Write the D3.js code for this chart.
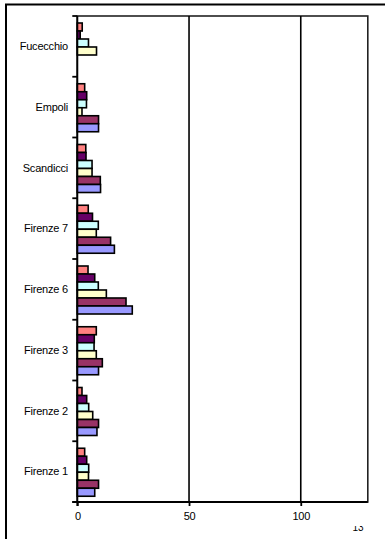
<!DOCTYPE html>
<html>
<head>
<meta charset="utf-8">
<script src="https://cdn.jsdelivr.net/npm/d3@7"></script>
<style>
  html, body { margin: 0; padding: 0; background: #fff; }
  svg { display: block; font-family: "Liberation Sans", Arial, sans-serif; }
</style>
</head>
<body>
<svg id="chart" width="385" height="539"></svg>
<script>
// Zone names, listed from top to bottom of the chart
const categories = ["Fucecchio", "Empoli", "Scandicci", "Firenze 7", "Firenze 6", "Firenze 3", "Firenze 2", "Firenze 1"];

// One array per series, in the same order as the categories
const serie1 = [2.2, 3.3, 3.8, 4.9, 4.8, 8.5, 2.1, 3.3];
const serie2 = [1.3, 4.2, 3.9, 6.8, 7.8, 7.6, 4.2, 4.2];
const serie3 = [5.0, 4.1, 6.6, 9.4, 9.4, 7.5, 5.1, 5.1];
const serie4 = [8.6, 2.1, 6.6, 8.5, 13.0, 8.5, 6.9, 5.0];
const serie5 = [null, 9.5, 10.3, 14.9, 21.8, 11.2, 9.5, 9.5];
const serie6 = [null, 9.5, 10.4, 16.6, 24.6, 9.5, 8.8, 7.8];

const seriesNames = ["Serie 1", "Serie 2", "Serie 3", "Serie 4", "Serie 5", "Serie 6"];
const seriesValues = [serie1, serie2, serie3, serie4, serie5, serie6];
const seriesColors = ["#FF8080", "#660066", "#CCFFFF", "#FFFFCC", "#993366", "#9999FF"];

const xTicks = [0, 50, 100];
const xMax = 130;

const svg = d3.select("#chart");

const plot = { left: 77.3, right: 367.8, top: 16, bottom: 502 };

const x = d3.scaleLinear().domain([0, xMax]).range([plot.left, plot.right]);
const y = d3.scaleBand().domain(categories).range([plot.top, plot.bottom]).padding(0);
const ySub = d3.scaleBand().domain(seriesNames).range([7, 55]).padding(0);

// Outer chart frame (runs past the right and bottom edges)
svg.append("rect")
  .attr("x", 6).attr("y", 4.5)
  .attr("width", 420).attr("height", 560)
  .attr("fill", "#fff").attr("stroke", "#000").attr("stroke-width", 2);

// Plot area
svg.append("rect")
  .attr("x", plot.left).attr("y", plot.top)
  .attr("width", plot.right - plot.left).attr("height", plot.bottom - plot.top)
  .attr("fill", "#fff").attr("stroke", "#222").attr("stroke-width", 1.6);

// Vertical gridlines
svg.append("g").selectAll("line")
  .data(xTicks.filter(d => d > 0))
  .join("line")
  .attr("x1", d => x(d)).attr("x2", d => x(d))
  .attr("y1", plot.top).attr("y2", plot.bottom)
  .attr("stroke", "#000").attr("stroke-width", 1.6);

// Bars
const rows = [];
categories.forEach((c, i) => {
  seriesNames.forEach((s, j) => {
    const v = seriesValues[j][i];
    if (v != null) rows.push({ c, s, v, color: seriesColors[j] });
  });
});

svg.append("g").selectAll("rect")
  .data(rows)
  .join("rect")
  .attr("x", x(0))
  .attr("y", d => y(d.c) + ySub(d.s))
  .attr("width", d => x(d.v) - x(0))
  .attr("height", ySub.bandwidth())
  .attr("fill", d => d.color)
  .attr("stroke", "#000")
  .attr("stroke-width", 1.6);

// Category axis: line plus ticks at the category boundaries
const yAxis = svg.append("g");
yAxis.append("line")
  .attr("x1", x(0)).attr("x2", x(0))
  .attr("y1", plot.top).attr("y2", plot.bottom + 4)
  .attr("stroke", "#000").attr("stroke-width", 1.8);
const bounds = categories.map(c => y(c)).concat([y(categories[categories.length - 1]) + y.bandwidth()]);
yAxis.selectAll("line.tick")
  .data(bounds)
  .join("line")
  .attr("class", "tick")
  .attr("x1", x(0) - 5).attr("x2", x(0))
  .attr("y1", d => d).attr("y2", d => d)
  .attr("stroke", "#000").attr("stroke-width", 1.8);
yAxis.selectAll("text")
  .data(categories)
  .join("text")
  .attr("x", 68)
  .attr("y", d => y(d) + y.bandwidth() / 2)
  .attr("dy", "0.35em")
  .attr("text-anchor", "end")
  .attr("font-size", 11)
  .attr("letter-spacing", -0.2)
  .attr("fill", "#000")
  .text(d => d);

// Value axis along the bottom
const xAxis = d3.axisBottom(x).tickValues(xTicks).tickSize(4).tickSizeOuter(0).tickPadding(6);
const gx = svg.append("g")
  .attr("transform", `translate(0,${plot.bottom})`)
  .call(xAxis);
gx.select(".domain").attr("stroke", "#000").attr("stroke-width", 1.8)
  .attr("d", `M${x(0) - 5},0H${plot.right}`);
gx.selectAll(".tick line").attr("stroke", "#000").attr("stroke-width", 1.8);
gx.selectAll(".tick text")
  .attr("font-size", 11)
  .attr("letter-spacing", -0.3)
  .attr("font-family", "Liberation Sans, Arial, sans-serif")
  .attr("fill", "#000");

// Last value label, squeezed at the right end and partly hidden
svg.append("clipPath").attr("id", "lastClip")
  .append("rect").attr("x", 340).attr("y", 526).attr("width", 40).attr("height", 13);
svg.append("text")
  .attr("clip-path", "url(#lastClip)")
  .attr("x", 358).attr("y", 531)
  .attr("text-anchor", "middle")
  .attr("font-size", 10)
  .attr("fill", "#000")
  .text("13");
</script>
</body>
</html>
